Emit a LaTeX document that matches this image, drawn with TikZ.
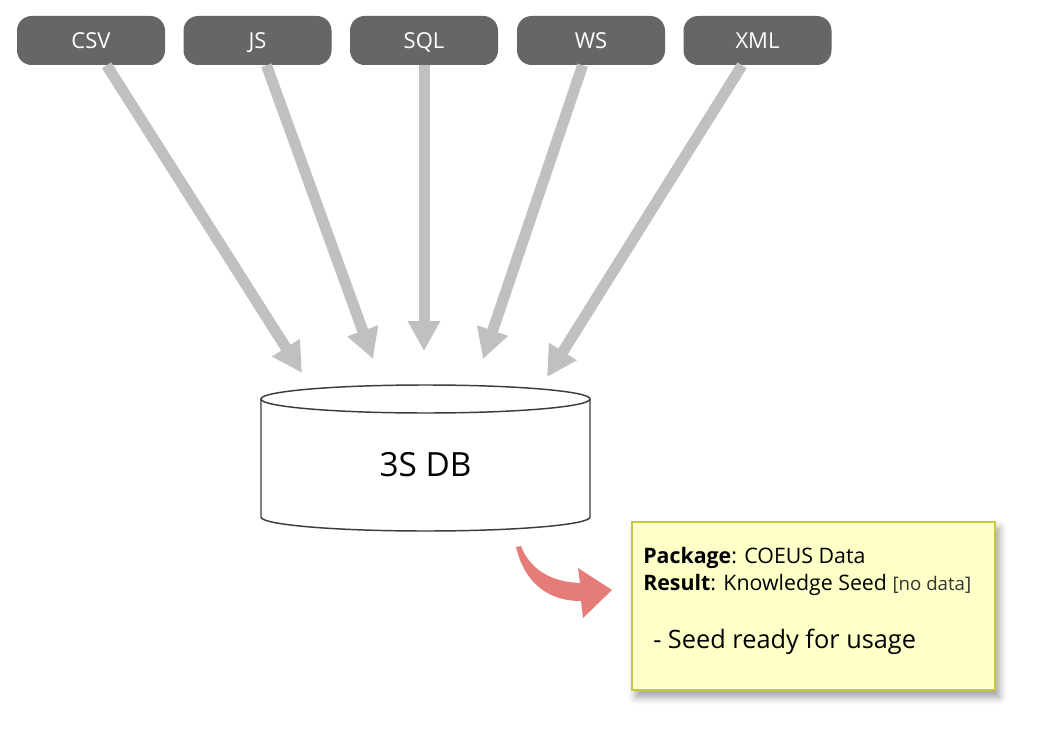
\documentclass[tikz,border=0pt]{standalone}
\usepackage{fontspec}
\setmainfont{Open Sans}
\usepackage{tikz}
\usetikzlibrary{arrows.meta,shadows.blur}

\definecolor{srcgray}{RGB}{102,102,102}
\definecolor{feedgray}{RGB}{192,192,192}
\definecolor{dbline}{RGB}{60,60,60}
\definecolor{noteyellow}{RGB}{255,255,200}
\definecolor{noteborder}{RGB}{200,200,60}
\definecolor{seedred}{RGB}{229,124,119}

\tikzset{
  srcbox/.style={fill=srcgray, text=white, rounded corners=11pt, minimum width=111pt, minimum height=36.75pt, inner sep=0pt, text height=11.6pt, text depth=0pt, font=\fontsize{16.5}{19}\selectfont},
  feed/.style={draw=feedgray, line width=8.25pt, -{Triangle[length=22.5pt, width=23pt]}},
  notebox/.style={fill=noteyellow, draw=noteborder, line width=1.5pt, minimum width=272pt, minimum height=126pt, blur shadow={shadow xshift=3pt, shadow yshift=-5pt, shadow blur radius=6pt, shadow opacity=40}},
  notetext/.style={anchor=base west, inner sep=0pt, font=\fontsize{16}{19}\selectfont}
}

\begin{document}
\begin{tikzpicture}[x=0.75pt,y=0.75pt,yscale=-1,xscale=1]
    \useasboundingbox (0,0) rectangle (1041,741);

    %Shape: Rounded Rect [id:csv] 
    \node [srcbox] (csv) at (91,40.5) {CSV};
    %Shape: Rounded Rect [id:js] 
    \node [srcbox] (js) at (257.5,40.5) {JS};
    %Shape: Rounded Rect [id:sql] 
    \node [srcbox] (sql) at (424,40.5) {SQL};
    %Shape: Rounded Rect [id:ws] 
    \node [srcbox] (ws) at (591,40.5) {WS};
    %Shape: Rounded Rect [id:xml] 
    \node [srcbox] (xml) at (757.5,40.5) {XML};

    %Arrow heads end here
    \coordinate (inCsv) at (302,373);
    \coordinate (inJs) at (373,359);
    \coordinate (inSql) at (424,351);
    \coordinate (inWs) at (483,359);
    \coordinate (inXml) at (547,377);

    \draw [feed] (csv) -- (inCsv);
    \draw [feed] (js) -- (inJs);
    \draw [feed] (sql) -- (inSql);
    \draw [feed] (ws) -- (inWs);
    \draw [feed] (xml) -- (inXml);

    %Shape: Can [id:db] 
    \draw [draw=dbline, line width=1.1pt, fill=white] (261,399) -- (261,517) arc [start angle=180, end angle=0, x radius=164.5, y radius=14] -- (590,399) ;
    \draw [draw=dbline, line width=1.1pt, fill=white] (425.5,399) ellipse [x radius=164.5, y radius=14] ;
    % Text Node
    \node [font=\fontsize{25}{30}\selectfont] (db) at (425.5,464.5) {3S DB};

    %Shape: Curved Right Arrow [id:seed] 
    \fill [seedred] (516,547) .. controls (524,580) and (545,601) .. (581,601) -- (583,618) -- (612,590) -- (578,568) -- (580,583) .. controls (552,582) and (530,570) .. (521,546) -- cycle ;

    %Shape: Note [id:note] 
    \node [notebox] (note) at (813.5,606) {};
    % Text Node
    \node [notetext] (pkg) at (643,563) {\textbf{Package}: COEUS Data};
    % Text Node
    \node [notetext] (res) at (643,590) {\textbf{Result}: Knowledge Seed {\fontsize{14}{17}\selectfont\color{black!80}[no data]}};
    % Text Node
    \node [notetext, font=\fontsize{19}{22}\selectfont] (ready) at (653,648) {- Seed ready for usage};

\end{tikzpicture}
\end{document}
